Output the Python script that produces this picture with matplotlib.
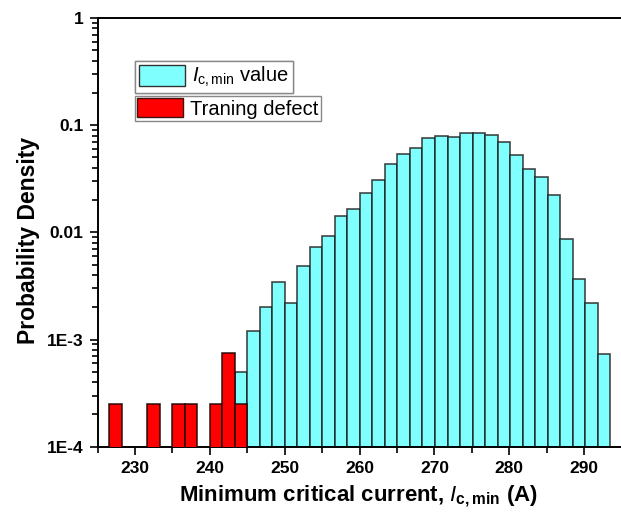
"""Histogram of minimum critical current with training defects, log density axis"""
import numpy as np
import matplotlib

matplotlib.use("Agg")
import matplotlib.pyplot as plt
from matplotlib.patches import Patch
from matplotlib.ticker import FixedLocator, FixedFormatter, LogLocator, NullFormatter

plt.rcParams["font.family"] = ["Liberation Sans", "DejaVu Sans"]
plt.rcParams["mathtext.fontset"] = "custom"
plt.rcParams["mathtext.rm"] = "Liberation Sans"
plt.rcParams["mathtext.it"] = "Liberation Sans:italic"
plt.rcParams["mathtext.bf"] = "Liberation Sans:bold"

## Data
bin_width = 1.672
# Ic,min histogram, first bin starts at 243.33 A
ic_start = 243.33
ic_density = [
    5.0e-4, 1.2e-3, 2.0e-3, 3.45e-3, 2.2e-3, 4.9e-3, 7.3e-3, 9.3e-3,
    0.0142, 0.0166, 0.0231, 0.0308, 0.043, 0.0543, 0.0614, 0.0761,
    0.0795, 0.0778, 0.0842, 0.0848, 0.0818, 0.0704, 0.0532, 0.0394,
    0.0329, 0.0223, 8.6e-3, 3.64e-3, 2.2e-3, 7.4e-4,
]
# training defect bins (left edges, A)
defect_left = [226.6, 231.62, 234.96, 236.63, 239.98, 241.66, 243.33]
defect_density = [2.5e-4, 2.5e-4, 2.5e-4, 2.5e-4, 2.5e-4, 7.5e-4, 2.5e-4]

x_major = [230, 240, 250, 260, 270, 280, 290]
y_major = [1e-4, 1e-3, 1e-2, 1e-1, 1]
y_labels = ["1E-4", "1E-3", "0.01", "0.1", "1"]

fig = plt.figure(figsize=(6.21, 5.21), dpi=100)
# axes runs off the right side of the picture, like the original
ax = fig.add_axes([97.5 / 621, 74.3 / 521, 561.5 / 621, 428.7 / 521])

ic_left = ic_start + bin_width * np.arange(len(ic_density))
ax.bar(
    ic_left, ic_density, width=bin_width, align="edge",
    color="#80FFFF", edgecolor=(0.1, 0.1, 0.1, 0.8), linewidth=1.2, zorder=2,
)
ax.bar(
    defect_left, defect_density, width=bin_width, align="edge",
    color="#FF0000", edgecolor=(0.1, 0.0, 0.0, 0.85), linewidth=1.2, zorder=3,
)

ax.set_yscale("log")
ax.set_ylim(1e-4, 1)
ax.set_xlim(225, 300)

ax.xaxis.set_major_locator(FixedLocator(x_major))
ax.xaxis.set_minor_locator(FixedLocator(np.arange(225, 300, 10)))
ax.yaxis.set_major_locator(FixedLocator(y_major))
ax.yaxis.set_major_formatter(FixedFormatter(y_labels))
ax.yaxis.set_minor_locator(LogLocator(base=10, subs=np.arange(2, 10)))
ax.yaxis.set_minor_formatter(NullFormatter())

ax.tick_params(which="both", direction="out", width=1.2, labelsize=12.5)
ax.tick_params(which="major", length=6)
ax.tick_params(which="minor", length=4)
ax.tick_params(axis="both", which="major", pad=4)
for lab in ax.get_xticklabels() + ax.get_yticklabels():
    lab.set_fontweight("bold")

for side in ["top", "left", "bottom"]:
    ax.spines[side].set_linewidth(1.4)
ax.spines["right"].set_visible(False)

ax.set_xlabel(r"Minimum critical current, $I_{\mathbf{c,min}}$ (A)",
              fontsize=16, fontweight="bold")
ax.set_ylabel("Probability Density", fontsize=16.5, fontweight="bold")
# the visible part of the axes is narrower than the axes itself
ax.xaxis.set_label_coords(0.464, -0.085)
ax.yaxis.set_label_coords(-0.103, 0.48)

## Two separate legend boxes, Origin style
leg1 = fig.legend(
    handles=[Patch(facecolor="#80FFFF", edgecolor="#333333", linewidth=1.0)],
    labels=[r"$I_{\rm c,min}$ value"],
    loc="upper left", bbox_to_anchor=(135 / 621, 1 - 61 / 521),
    fontsize=14.5, frameon=True, fancybox=False, edgecolor="#888888",
    handlelength=2.3, handleheight=1.2, handletextpad=0.35,
    borderpad=0.2, borderaxespad=0, framealpha=1,
)
leg1.get_frame().set_linewidth(1.0)
leg2 = fig.legend(
    handles=[Patch(facecolor="#FF0000", edgecolor="#441111", linewidth=1.0)],
    labels=["Traning defect"],
    loc="upper left", bbox_to_anchor=(135 / 621, 1 - 96 / 521),
    fontsize=14.5, frameon=True, fancybox=False, edgecolor="#888888",
    handlelength=2.3, handleheight=1.1, handletextpad=0.35,
    borderpad=0.1, borderaxespad=0, framealpha=1,
)
leg2.get_frame().set_linewidth(1.0)
fig.add_artist(leg1)

fig.savefig("out.png", dpi=100)
